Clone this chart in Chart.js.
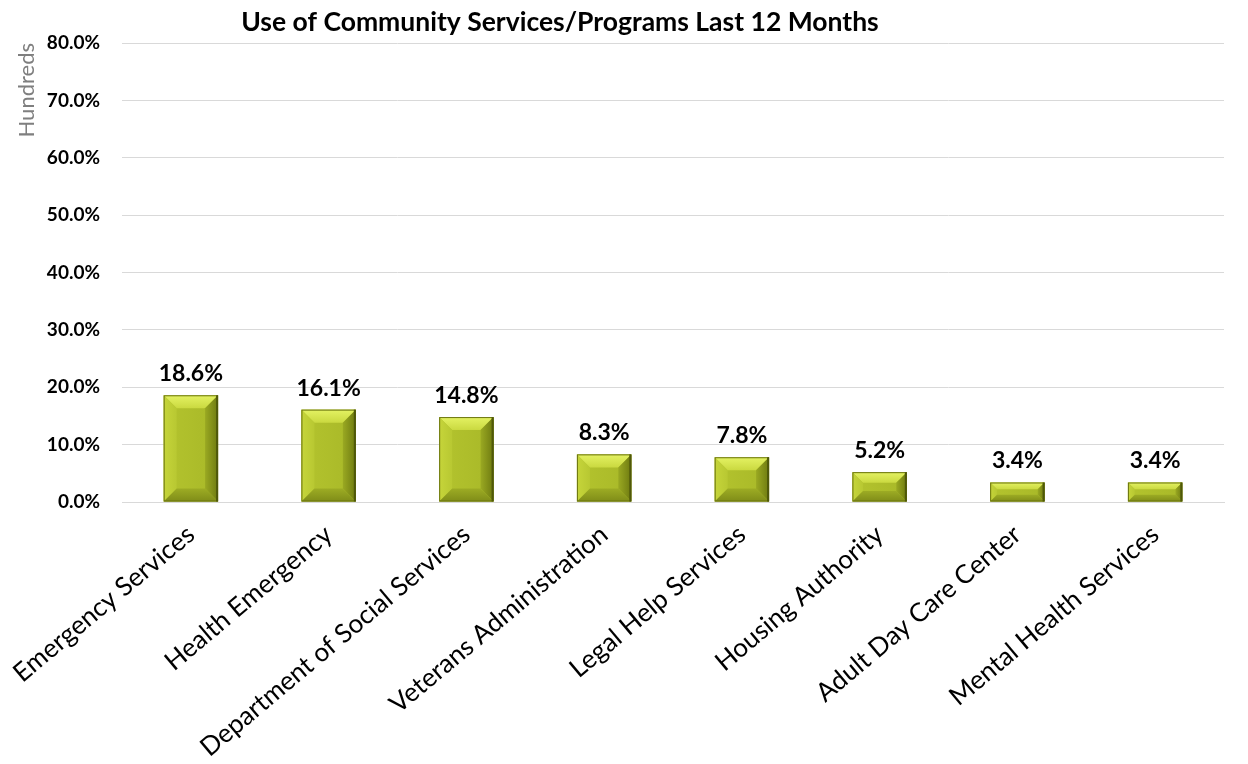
<!DOCTYPE html>
<html>
<head>
<meta charset="utf-8">
<script src="https://cdn.jsdelivr.net/npm/chart.js@4/dist/chart.umd.min.js"></script>
<style>
html,body{margin:0;padding:0;background:#fff;}
#wrap{width:1248px;height:764px;position:relative;}
</style>
</head>
<body>
<div id="wrap"><canvas id="c" width="1248" height="764"></canvas></div>
<script>
const chartTitle = "Use of Community Services/Programs Last 12 Months";
const categories = ["Emergency Services","Health Emergency","Department of Social Services","Veterans Administration","Legal Help Services","Housing Authority","Adult Day Care Center","Mental Health Services"];
const usePercent = [18.6, 16.1, 14.8, 8.3, 7.8, 5.2, 3.4, 3.4];
const yTicks = [0, 10, 20, 30, 40, 50, 60, 70, 80];
const yAxisTitle = "Hundreds";

const FONT = "Lato, 'Open Sans', 'DejaVu Sans', sans-serif";

const bevelPlugin = {
  id: 'bevel',
  afterDatasetsDraw(chart) {
    const ctx = chart.ctx;
    const meta = chart.getDatasetMeta(0);
    meta.data.forEach((bar, i) => {
      const w = bar.width;
      const l = bar.x - w / 2, r = bar.x + w / 2;
      const t = Math.min(bar.y, bar.base), b = Math.max(bar.y, bar.base);
      const h = b - t;
      const bv = Math.min(13, h * 0.36, w * 0.3);
      ctx.save();
      const g = ctx.createLinearGradient(l, 0, r, 0);
      g.addColorStop(0, '#b4c42e');
      g.addColorStop(1, '#a8b828');
      ctx.fillStyle = g;
      ctx.fillRect(l, t, w, h);
      const poly = (pts, col) => {
        ctx.beginPath();
        ctx.moveTo(pts[0][0], pts[0][1]);
        for (let k = 1; k < pts.length; k++) ctx.lineTo(pts[k][0], pts[k][1]);
        ctx.closePath();
        ctx.fillStyle = col;
        ctx.fill();
      };
      const gt = ctx.createLinearGradient(0, t, 0, t + bv);
      gt.addColorStop(0, '#e4f263');
      gt.addColorStop(1, '#cad940');
      poly([[l, t], [r, t], [r - bv, t + bv], [l + bv, t + bv]], gt);
      const gl = ctx.createLinearGradient(l, 0, l + bv, 0);
      gl.addColorStop(0, '#c6d53a');
      gl.addColorStop(1, '#b8c832');
      poly([[l, t], [l + bv, t + bv], [l + bv, b - bv], [l, b]], gl);
      const gr = ctx.createLinearGradient(r - bv, 0, r, 0);
      gr.addColorStop(0, '#9aa922');
      gr.addColorStop(1, '#6e7a10');
      poly([[r, t], [r, b], [r - bv, b - bv], [r - bv, t + bv]], gr);
      const gb = ctx.createLinearGradient(0, b - bv, 0, b);
      gb.addColorStop(0, '#9dac24');
      gb.addColorStop(1, '#7f8c18');
      poly([[l, b], [l + bv, b - bv], [r - bv, b - bv], [r, b]], gb);
      ctx.strokeStyle = '#6a740f';
      ctx.lineWidth = 1;
      ctx.strokeRect(l + 0.5, t + 0.5, w - 1, h - 1);
      ctx.fillStyle = '#4f580a';
      ctx.fillRect(r - 2, t, 2, h);
      ctx.restore();

      ctx.save();
      ctx.font = "bold 23px " + FONT;
      ctx.fillStyle = '#000';
      ctx.textAlign = 'center';
      ctx.textBaseline = 'bottom';
      ctx.fillText(usePercent[i].toFixed(1) + '%', bar.x, t - 10);
      ctx.restore();
    });
  }
};

const titlePlugin = {
  id: 'customTitle',
  afterDraw(chart) {
    const ctx = chart.ctx;
    ctx.save();
    ctx.font = "bold 26.5px " + FONT;
    ctx.fillStyle = '#000';
    ctx.textAlign = 'center';
    ctx.textBaseline = 'middle';
    ctx.fillText(chartTitle, 560, 22);
    ctx.restore();
  }
};

new Chart(document.getElementById('c'), {
  type: 'bar',
  data: {
    labels: categories,
    datasets: [{
      data: usePercent,
      backgroundColor: 'rgba(0,0,0,0)',
      borderWidth: 0,
      categoryPercentage: 1,
      barPercentage: 0.395
    }]
  },
  options: {
    responsive: false,
    animation: false,
    devicePixelRatio: 1,
    layout: { padding: { top: 43, right: 24, left: 0, bottom: 0 } },
    plugins: { legend: { display: false }, tooltip: { enabled: false }, title: { display: false } },
    scales: {
      y: {
        min: 0, max: 80,
        afterBuildTicks(scale) { scale.ticks = yTicks.map(v => ({ value: v })); },
        afterFit(scale) { scale.width = 122; scale.paddingTop = 0; scale.paddingBottom = 0; },
        ticks: {
          padding: 22,
          color: '#000',
          font: { family: FONT, size: 19, weight: 'bold' },
          callback: v => v.toFixed(1) + '%'
        },
        grid: { color: '#d9d9d9', lineWidth: 1, drawTicks: false },
        border: { display: false },
        title: {
          display: true,
          text: yAxisTitle,
          align: 'end',
          color: '#7f7f7f',
          font: { family: FONT, size: 22 },
          padding: { top: 14, bottom: 0 }
        }
      },
      x: {
        afterFit(scale) { scale.height = 262; scale.paddingLeft = 0; scale.paddingRight = 0; },
        ticks: {
          minRotation: 40, maxRotation: 40,
          padding: 17,
          color: '#000',
          font: { family: FONT, size: 26 },
          autoSkip: false
        },
        grid: { display: false, drawTicks: false },
        border: { display: true, color: '#d9d9d9' }
      }
    }
  },
  plugins: [bevelPlugin, titlePlugin]
});
</script>
</body>
</html>
